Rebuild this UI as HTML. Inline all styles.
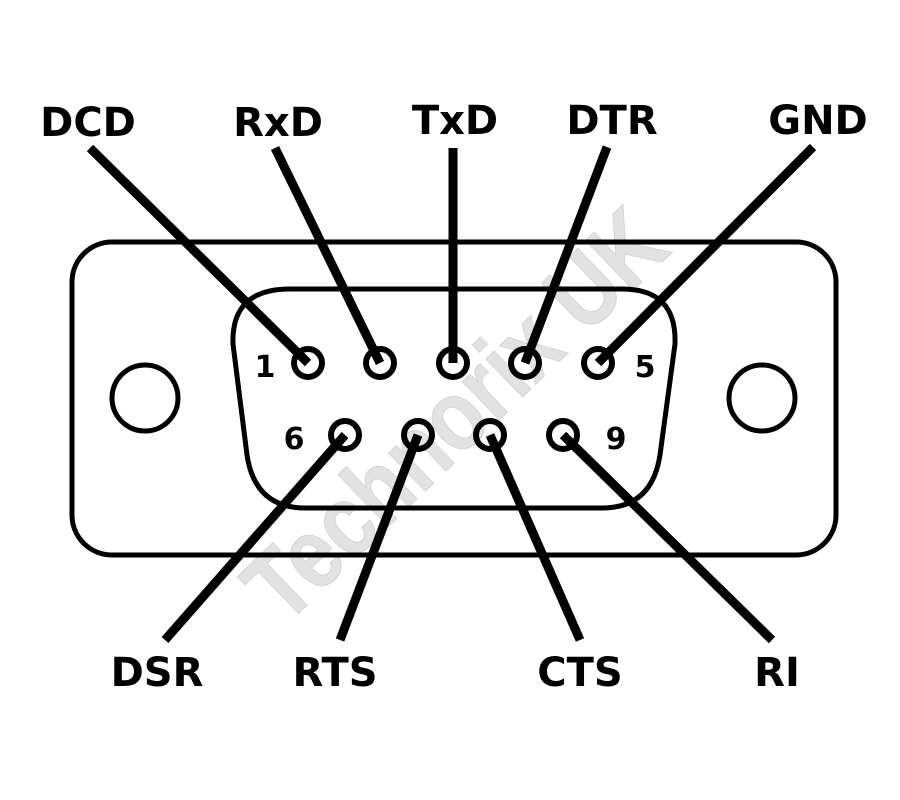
<!DOCTYPE html>
<html><head><style>body{margin:0;background:#fff}svg{display:block}</style></head><body>
<svg width="900" height="800" viewBox="0 0 900 800" xmlns="http://www.w3.org/2000/svg">
<rect width="900" height="800" fill="#fff"/>
<text x="455" y="415" transform="rotate(-44 455 415)" text-anchor="middle" dominant-baseline="central" textLength="540" lengthAdjust="spacingAndGlyphs" font-family="Liberation Sans, sans-serif" font-weight="bold" font-size="100" fill="#e2e2e2" stroke="#d4d4d4" stroke-width="1">Technorix UK</text>
<rect x="72" y="242" width="764" height="313" rx="40" fill="none" stroke="#000" stroke-width="5"/>
<circle cx="145" cy="398" r="33" fill="none" stroke="#000" stroke-width="5"/>
<circle cx="762" cy="398" r="33" fill="none" stroke="#000" stroke-width="5"/>
<path d="M290 289 L622 289 Q677 289 675 344 L660 455 Q652 508 602 508 L305 508 Q255 508 247 455 L233 344 Q231 289 290 289 Z" fill="none" stroke="#000" stroke-width="5"/>
<g stroke="#000" stroke-width="9" stroke-linecap="butt">
<line x1="90" y1="148" x2="308" y2="363"/>
<line x1="275" y1="148" x2="380" y2="363"/>
<line x1="453" y1="148" x2="453" y2="363"/>
<line x1="607" y1="147" x2="525" y2="363"/>
<line x1="813" y1="147" x2="598" y2="363"/>
<line x1="165" y1="640" x2="345" y2="435"/>
<line x1="340" y1="640" x2="418" y2="435"/>
<line x1="580" y1="640" x2="490" y2="435"/>
<line x1="772" y1="640" x2="563" y2="435"/>
</g>
<g fill="none" stroke="#000" stroke-width="6">
<circle cx="308" cy="363" r="14"/><circle cx="380" cy="363" r="14"/><circle cx="453" cy="363" r="14"/><circle cx="525" cy="363" r="14"/><circle cx="598" cy="363" r="14"/>
<circle cx="345" cy="435" r="14"/><circle cx="418" cy="435" r="14"/><circle cx="490" cy="435" r="14"/><circle cx="563" cy="435" r="14"/>
</g>
<g font-family="DejaVu Sans, sans-serif" font-weight="bold" font-size="40" fill="#000" text-anchor="middle">
<text x="88" y="136">DCD</text>
<text x="278" y="136">RxD</text>
<text x="455" y="134">TxD</text>
<text x="612" y="134">DTR</text>
<text x="818" y="134">GND</text>
<text x="157" y="686">DSR</text>
<text x="335" y="686">RTS</text>
<text x="580" y="686">CTS</text>
<text x="777" y="686">RI</text>
</g>
<g font-family="DejaVu Sans, sans-serif" font-weight="bold" font-size="30" fill="#000" text-anchor="middle">
<text x="265" y="377">1</text>
<text x="645" y="377">5</text>
<text x="294" y="449">6</text>
<text x="616" y="449">9</text>
</g>
</svg>
</body></html>
